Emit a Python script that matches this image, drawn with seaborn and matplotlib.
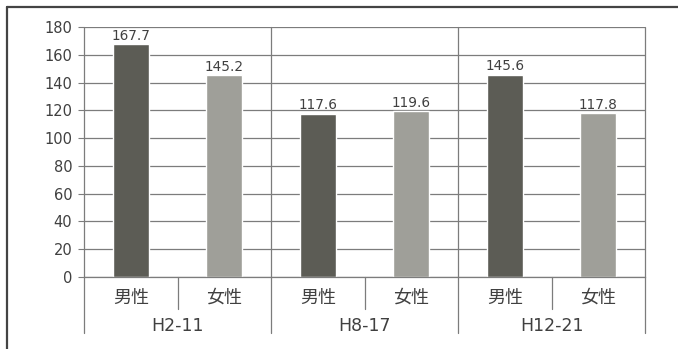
import matplotlib
matplotlib.use("Agg")
import matplotlib.pyplot as plt
from matplotlib.lines import Line2D
import seaborn as sns
import pandas as pd

# Data
periods = ["H2-11", "H8-17", "H12-21"]
sexes = ["男性", "女性"]
male_values = [167.7, 117.6, 145.6]
female_values = [145.2, 119.6, 117.8]
y_ticks = [0, 20, 40, 60, 80, 100, 120, 140, 160, 180]

df = pd.DataFrame({
    "period": periods * 2,
    "sex": [sexes[0]] * 3 + [sexes[1]] * 3,
    "value": male_values + female_values,
})

sns.set_theme(style="white")
plt.rcParams["font.family"] = ["DejaVu Sans", "Noto Sans CJK JP"]
jp_font = ["Noto Sans CJK JP", "DejaVu Sans"]

text_color = "#404040"
line_color = "#7c7c7c"
palette = {"男性": "#5c5c55", "女性": "#9f9f99"}

fig = plt.figure(figsize=(6.78, 3.49), dpi=100)
fig.patch.set_facecolor("white")
ax = fig.add_axes([84 / 678, 72 / 349, (645 - 84) / 678, 250 / 349])

sns.barplot(data=df, x="period", y="value", hue="sex", order=periods,
            hue_order=sexes, palette=palette, width=1.0, gap=0.62,
            saturation=1, legend=False, ax=ax)

for cont in ax.containers:
    ax.bar_label(cont, fmt="%.1f", padding=1, fontsize=9.8, color=text_color)

ax.set_xlim(-0.5, 2.5)
ax.set_ylim(0, 180)
ax.set_yticks(y_ticks)
ax.set_yticklabels([str(t) for t in y_ticks], fontsize=10.5, color=text_color)
ax.tick_params(axis="y", direction="out", length=4.5, width=0.8,
               color=line_color, pad=4, left=True)
ax.set_xticks([])
ax.set_xlabel("")
ax.set_ylabel("")

# Horizontal grid
ax.yaxis.grid(True, color=line_color, linewidth=0.9)
ax.set_axisbelow(True)
for side in ["left", "right", "top"]:
    ax.spines[side].set_visible(False)
ax.spines["bottom"].set_color(line_color)
ax.spines["bottom"].set_linewidth(0.9)

trans = ax.get_xaxis_transform()

# Period separators extending below the axis
for xpos in [-0.5, 0.5, 1.5, 2.5]:
    ax.add_line(Line2D([xpos, xpos], [1.0, -0.224], transform=trans,
                       color=line_color, linewidth=0.9, clip_on=False))

# Sex separators inside each period
for xpos in [0, 1, 2]:
    ax.add_line(Line2D([xpos, xpos], [0.0, -0.128], transform=trans,
                       color=line_color, linewidth=0.9, clip_on=False))

# Sex labels and period labels
for i, period in enumerate(periods):
    for j, sex in enumerate(sexes):
        ax.text(i - 0.25 + 0.5 * j, -0.084, sex, transform=trans,
                ha="center", va="center", fontsize=13, color=text_color,
                family=jp_font)
    ax.text(i, -0.196, period, transform=trans, ha="center", va="center",
            fontsize=12.5, color=text_color)

# Outer frame
fig.add_artist(Line2D([7 / 678, 7 / 678], [0, 1 - 7 / 349],
                      transform=fig.transFigure, color="#444444", linewidth=1.6))
fig.add_artist(Line2D([7 / 678, 1], [1 - 7 / 349, 1 - 7 / 349],
                      transform=fig.transFigure, color="#444444", linewidth=1.6))

fig.savefig("out.png", dpi=100)
